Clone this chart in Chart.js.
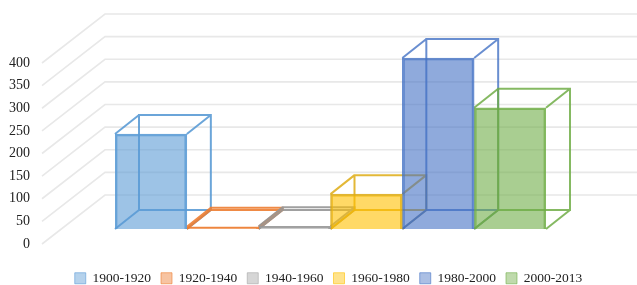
<!DOCTYPE html>
<html>
<head>
<meta charset="utf-8">
<script src="https://cdn.jsdelivr.net/npm/chart.js@4"></script>
<style>
  html, body { margin: 0; padding: 0; background: #fff; }
  #wrap { width: 637px; height: 285px; }
</style>
</head>
<body>
<div id="wrap"><canvas id="grafik"></canvas></div>
<script>
const periods = ['1900-1920', '1920-1940', '1940-1960', '1960-1980', '1980-2000', '2000-2013'];
const counts = [210, 5, 6, 77, 378, 268];
const yTicks = [0, 50, 100, 150, 200, 250, 300, 350, 400];

const rgb = ['91,155,213', '237,125,49', '165,165,165', '255,192,0', '68,114,196', '112,173,71'];
const edge = ['rgba(91,155,213,0.9)', 'rgba(237,125,49,0.9)', 'rgba(150,150,150,0.9)',
              'rgba(222,172,20,0.85)', 'rgba(68,114,196,0.8)', 'rgba(112,173,71,0.85)'];

const depth = { dx: 24, dy: -19 };   // depth of one box
const wall = { dx: 63, dy: -49 };    // label edge -> back wall
const labelDrop = 15;                // tick labels sit in front of the bars

// fake 3d: walls, tick labels and the hidden edges of every box
const box3d = {
  id: 'box3d',
  beforeDatasetsDraw(chart) {
    const ctx = chart.ctx;
    const y = chart.scales.y;
    ctx.save();

    ctx.strokeStyle = '#e8e8e8';
    ctx.lineWidth = 1.6;
    yTicks.forEach(v => {
      const fy = y.getPixelForValue(v) + labelDrop;
      ctx.beginPath();
      ctx.moveTo(42, fy);
      ctx.lineTo(42 + wall.dx, fy + wall.dy);
      ctx.lineTo(chart.width, fy + wall.dy);
      ctx.stroke();
    });

    ctx.fillStyle = '#222';
    ctx.font = '14px "Liberation Serif"';
    ctx.textAlign = 'right';
    ctx.textBaseline = 'middle';
    yTicks.forEach(v => ctx.fillText(String(v), 30, y.getPixelForValue(v) + labelDrop));

    chart.data.datasets.forEach((ds, i) => {
      const bar = chart.getDatasetMeta(i).data[0];
      const l = bar.x - bar.width / 2, r = bar.x + bar.width / 2;
      const t = bar.y, b = bar.base;
      ctx.strokeStyle = ds.borderColor;
      ctx.lineWidth = 2;
      ctx.beginPath();
      ctx.rect(l + depth.dx, t + depth.dy, r - l, b - t);
      [[l, t], [r, t], [l, b], [r, b]].forEach(([px, py]) => {
        ctx.moveTo(px, py);
        ctx.lineTo(px + depth.dx, py + depth.dy);
      });
      ctx.stroke();
    });

    ctx.restore();
  }
};

new Chart(
  document.getElementById('grafik'),
  {
    type: 'bar',
    data: {
      labels: [''],
      datasets: periods.map((p, i) => ({
        label: p,
        data: [counts[i]],
        backgroundColor: `rgba(${rgb[i]},0.6)`,
        borderColor: edge[i],
        borderWidth: 2,
        categoryPercentage: 1,
        barPercentage: 1
      }))
    },
    options: {
      responsive: true,
      maintainAspectRatio: false,
      animation: false,
      layout: { padding: { top: 48, left: 20, bottom: -10 } },
      scales: {
        x: {
          grid: { display: false },
          border: { display: false },
          ticks: { display: false },
          afterFit: s => { s.height = 32.5; }
        },
        y: {
          min: 0,
          max: 400,
          grid: { display: false },
          border: { display: false },
          ticks: { display: false },
          afterFit: s => { s.width = 95; }
        },
        yRight: {
          position: 'right',
          grid: { display: false },
          border: { display: false },
          ticks: { display: false },
          afterFit: s => { s.width = 91; }
        }
      },
      plugins: {
        tooltip: { enabled: false },
        legend: {
          position: 'bottom',
          labels: {
            boxWidth: 11,
            boxHeight: 11,
            padding: 10,
            color: '#222',
            font: { family: 'Liberation Serif', size: 13.5 },
            generateLabels: chart => Chart.defaults.plugins.legend.labels.generateLabels(chart).map((item, i) =>
              Object.assign(item, {
                fillStyle: `rgba(${rgb[i]},0.45)`,
                strokeStyle: `rgba(${rgb[i]},0.6)`,
                lineWidth: 1
              }))
          }
        }
      }
    },
    plugins: [box3d]
  }
);
</script>
</body>
</html>
